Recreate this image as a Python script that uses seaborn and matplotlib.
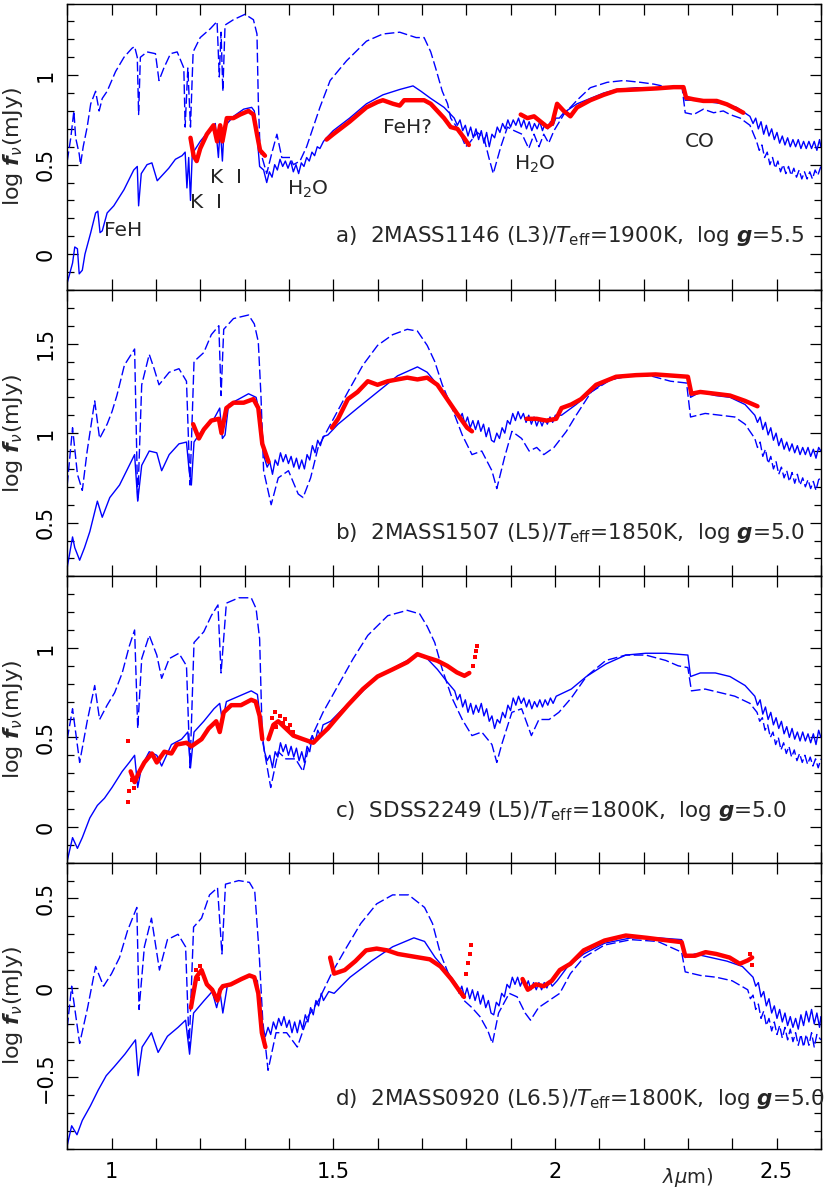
import numpy as np
import pandas as pd
import seaborn as sns
import matplotlib.pyplot as plt
from matplotlib.ticker import MultipleLocator, FuncFormatter

# ---- panel a: 2MASS1146 ----
a_solid = [(0.900, -0.16), (0.912, -0.05), (0.917, 0.04), (0.923, 0.03), (0.927, -0.11), (0.934, -0.09),
           (0.940, 0.00), (0.953, 0.12), (0.964, 0.23), (0.969, 0.24), (0.974, 0.12), (0.979, 0.13),
           (0.990, 0.23), (1.005, 0.27), (1.028, 0.36), (1.050, 0.47), (1.058, 0.49), (1.061, 0.27),
           (1.067, 0.45), (1.080, 0.50), (1.091, 0.51), (1.103, 0.41), (1.114, 0.44), (1.129, 0.48),
           (1.144, 0.53), (1.159, 0.55), (1.166, 0.57), (1.170, 0.37), (1.174, 0.54), (1.178, 0.30),
           (1.182, 0.56), (1.200, 0.63), (1.223, 0.70), (1.234, 0.73), (1.241, 0.54), (1.245, 0.71),
           (1.250, 0.52), (1.254, 0.71), (1.275, 0.77), (1.298, 0.81), (1.316, 0.82), (1.322, 0.80),
           (1.328, 0.67), (1.334, 0.49), (1.343, 0.47), (1.350, 0.40), (1.356, 0.46), (1.362, 0.43),
           (1.368, 0.50), (1.374, 0.47), (1.380, 0.53), (1.386, 0.49), (1.392, 0.52), (1.398, 0.48),
           (1.404, 0.52), (1.410, 0.46), (1.416, 0.50), (1.422, 0.45), (1.428, 0.51), (1.434, 0.49),
           (1.440, 0.54), (1.446, 0.52), (1.452, 0.57), (1.458, 0.55), (1.464, 0.60), (1.470, 0.59),
           (1.478, 0.63), (1.485, 0.65), (1.500, 0.69), (1.537, 0.76), (1.575, 0.84), (1.612, 0.89),
           (1.650, 0.92), (1.680, 0.94), (1.698, 0.91), (1.720, 0.87), (1.750, 0.82), (1.773, 0.76),
           (1.780, 0.72), (1.786, 0.75), (1.792, 0.69), (1.798, 0.72), (1.804, 0.66), (1.810, 0.71),
           (1.816, 0.65), (1.822, 0.70), (1.828, 0.64), (1.834, 0.69), (1.840, 0.62), (1.846, 0.68),
           (1.852, 0.60), (1.858, 0.67), (1.864, 0.65), (1.870, 0.71), (1.876, 0.68), (1.882, 0.73),
           (1.888, 0.70), (1.894, 0.75), (1.900, 0.71), (1.906, 0.75), (1.912, 0.72), (1.918, 0.76),
           (1.924, 0.71), (1.930, 0.75), (1.936, 0.70), (1.942, 0.74), (1.948, 0.69), (1.954, 0.73),
           (1.960, 0.70), (1.966, 0.74), (1.972, 0.69), (1.978, 0.73), (1.984, 0.70), (1.990, 0.74),
           (1.996, 0.72), (2.002, 0.76), (2.010, 0.76), (2.020, 0.79), (2.050, 0.84), (2.080, 0.87),
           (2.110, 0.90), (2.140, 0.92), (2.185, 0.93), (2.230, 0.93), (2.268, 0.93), (2.290, 0.93),
           (2.294, 0.86), (2.302, 0.86), (2.328, 0.86), (2.350, 0.85), (2.380, 0.84), (2.410, 0.82),
           (2.440, 0.77), (2.447, 0.73), (2.453, 0.76), (2.459, 0.70), (2.465, 0.74), (2.471, 0.67),
           (2.477, 0.72), (2.483, 0.66), (2.489, 0.70), (2.495, 0.64), (2.501, 0.68), (2.507, 0.62),
           (2.513, 0.66), (2.519, 0.61), (2.525, 0.65), (2.531, 0.60), (2.537, 0.64), (2.543, 0.60),
           (2.549, 0.64), (2.555, 0.59), (2.561, 0.63), (2.567, 0.59), (2.573, 0.63), (2.579, 0.59),
           (2.585, 0.63), (2.591, 0.58), (2.597, 0.64), (2.600, 0.60)]
a_dash = [(0.900, 0.52), (0.908, 0.65), (0.915, 0.80), (0.919, 0.65), (0.927, 0.56), (0.930, 0.50),
          (0.936, 0.60), (0.945, 0.71), (0.953, 0.84), (0.964, 0.91), (0.972, 0.80), (0.979, 0.87),
          (0.990, 0.91), (1.009, 1.02), (1.028, 1.10), (1.046, 1.15), (1.052, 1.16), (1.058, 1.10),
          (1.061, 0.78), (1.065, 1.10), (1.080, 1.13), (1.099, 1.12), (1.107, 0.97), (1.118, 1.04),
          (1.133, 1.12), (1.148, 1.13), (1.163, 1.04), (1.166, 0.71), (1.172, 1.04), (1.178, 0.71),
          (1.184, 1.13), (1.200, 1.21), (1.223, 1.26), (1.238, 1.30), (1.243, 0.99), (1.247, 1.24),
          (1.251, 0.91), (1.256, 1.28), (1.275, 1.31), (1.301, 1.34), (1.320, 1.31), (1.328, 1.23),
          (1.331, 0.86), (1.335, 0.58), (1.350, 0.45), (1.361, 0.56), (1.373, 0.67), (1.384, 0.54),
          (1.403, 0.54), (1.410, 0.50), (1.425, 0.52), (1.440, 0.60), (1.455, 0.71), (1.470, 0.82),
          (1.493, 0.97), (1.530, 1.08), (1.575, 1.19), (1.612, 1.23), (1.650, 1.24), (1.687, 1.21),
          (1.705, 1.21), (1.720, 1.13), (1.731, 1.04), (1.746, 0.91), (1.758, 0.84), (1.765, 0.76),
          (1.784, 0.69), (1.799, 0.60), (1.810, 0.63), (1.825, 0.68), (1.840, 0.65), (1.851, 0.54),
          (1.861, 0.45), (1.878, 0.60), (1.893, 0.71), (1.908, 0.69), (1.926, 0.67), (1.941, 0.59),
          (1.953, 0.67), (1.964, 0.60), (1.975, 0.67), (1.986, 0.62), (1.998, 0.69), (2.020, 0.78),
          (2.050, 0.86), (2.080, 0.93), (2.118, 0.96), (2.155, 0.97), (2.193, 0.96), (2.223, 0.95),
          (2.260, 0.93), (2.287, 0.93), (2.294, 0.79), (2.313, 0.78), (2.335, 0.81), (2.358, 0.79),
          (2.380, 0.80), (2.395, 0.78), (2.418, 0.76), (2.440, 0.72), (2.455, 0.63), (2.461, 0.58),
          (2.467, 0.61), (2.473, 0.54), (2.479, 0.57), (2.485, 0.50), (2.491, 0.54), (2.497, 0.48),
          (2.503, 0.52), (2.509, 0.46), (2.515, 0.50), (2.521, 0.45), (2.527, 0.49), (2.533, 0.44),
          (2.539, 0.48), (2.545, 0.43), (2.551, 0.47), (2.557, 0.42), (2.563, 0.46), (2.569, 0.42),
          (2.575, 0.46), (2.581, 0.42), (2.587, 0.47), (2.593, 0.44), (2.600, 0.49)]
a_obs = [[(1.178, 0.65), (1.185, 0.55), (1.192, 0.52), (1.200, 0.59), (1.215, 0.67), (1.230, 0.72),
          (1.238, 0.63), (1.245, 0.72), (1.250, 0.63), (1.260, 0.76), (1.275, 0.76), (1.290, 0.78),
          (1.309, 0.80), (1.320, 0.78), (1.328, 0.67), (1.335, 0.58), (1.346, 0.55)],
         [(1.485, 0.64), (1.500, 0.67), (1.537, 0.74), (1.575, 0.82), (1.600, 0.85), (1.612, 0.86),
          (1.635, 0.84), (1.650, 0.83), (1.660, 0.86), (1.680, 0.86), (1.705, 0.86), (1.720, 0.84),
          (1.735, 0.80), (1.750, 0.76), (1.765, 0.71), (1.780, 0.70), (1.795, 0.65), (1.806, 0.61)],
         [(1.923, 0.78), (1.938, 0.76), (1.953, 0.77), (1.968, 0.74), (1.983, 0.71), (1.994, 0.73),
          (2.005, 0.84), (2.020, 0.80), (2.035, 0.77), (2.050, 0.82), (2.080, 0.86), (2.110, 0.89),
          (2.140, 0.915), (2.185, 0.92), (2.230, 0.926), (2.268, 0.933), (2.290, 0.933), (2.296, 0.874),
          (2.313, 0.865), (2.335, 0.856), (2.365, 0.856), (2.388, 0.837), (2.410, 0.81), (2.425, 0.79)]]
a_dots = []

# ---- panel b: 2MASS1507 ----
b_solid = [(0.900, 0.25), (0.912, 0.42), (0.917, 0.36), (0.928, 0.29), (0.939, 0.36), (0.951, 0.45),
           (0.968, 0.62), (0.979, 0.53), (0.996, 0.64), (1.018, 0.71), (1.040, 0.82), (1.052, 0.88),
           (1.059, 0.62), (1.068, 0.82), (1.085, 0.90), (1.102, 0.89), (1.113, 0.79), (1.130, 0.88),
           (1.152, 0.94), (1.169, 0.95), (1.175, 0.79), (1.180, 0.71), (1.186, 0.95), (1.208, 1.03),
           (1.231, 1.08), (1.244, 1.14), (1.250, 0.97), (1.256, 0.99), (1.264, 1.16), (1.287, 1.19),
           (1.309, 1.22), (1.326, 1.20), (1.337, 1.08), (1.345, 0.86), (1.351, 0.81), (1.357, 0.84),
           (1.363, 0.77), (1.369, 0.85), (1.375, 0.82), (1.381, 0.89), (1.387, 0.84), (1.393, 0.88),
           (1.399, 0.83), (1.405, 0.87), (1.411, 0.81), (1.417, 0.86), (1.423, 0.80), (1.429, 0.85),
           (1.435, 0.80), (1.441, 0.88), (1.447, 0.85), (1.453, 0.93), (1.459, 0.89), (1.465, 0.96),
           (1.471, 0.93), (1.477, 0.98), (1.488, 0.99), (1.511, 1.05), (1.555, 1.14), (1.600, 1.23),
           (1.645, 1.32), (1.690, 1.37), (1.712, 1.34), (1.735, 1.27), (1.757, 1.19), (1.779, 1.12),
           (1.785, 1.08), (1.791, 1.11), (1.797, 1.05), (1.803, 1.09), (1.809, 1.03), (1.815, 1.07),
           (1.821, 1.02), (1.827, 1.07), (1.833, 1.01), (1.839, 1.05), (1.845, 0.98), (1.851, 1.03),
           (1.857, 0.96), (1.863, 0.95), (1.869, 1.00), (1.875, 0.97), (1.881, 1.03), (1.887, 1.00),
           (1.893, 1.07), (1.899, 1.05), (1.905, 1.11), (1.911, 1.07), (1.917, 1.12), (1.923, 1.08),
           (1.929, 1.11), (1.935, 1.06), (1.941, 1.10), (1.947, 1.05), (1.953, 1.09), (1.959, 1.04),
           (1.965, 1.08), (1.971, 1.04), (1.977, 1.08), (1.983, 1.05), (1.989, 1.09), (1.995, 1.06),
           (2.001, 1.10), (2.015, 1.10), (2.048, 1.16), (2.082, 1.23), (2.115, 1.29), (2.160, 1.32),
           (2.205, 1.33), (2.250, 1.32), (2.300, 1.32), (2.306, 1.20), (2.328, 1.23), (2.362, 1.21),
           (2.395, 1.20), (2.429, 1.16), (2.451, 1.10), (2.457, 1.06), (2.463, 1.09), (2.469, 1.02),
           (2.475, 1.06), (2.481, 0.99), (2.487, 1.03), (2.493, 0.96), (2.499, 1.00), (2.505, 0.93),
           (2.511, 0.97), (2.517, 0.91), (2.523, 0.95), (2.529, 0.90), (2.535, 0.94), (2.541, 0.89),
           (2.547, 0.93), (2.553, 0.88), (2.559, 0.92), (2.565, 0.88), (2.571, 0.92), (2.577, 0.87),
           (2.583, 0.91), (2.589, 0.86), (2.595, 0.92), (2.600, 0.90)]
b_dash = [(0.900, 0.71), (0.912, 1.03), (0.923, 0.77), (0.934, 0.68), (0.945, 0.90), (0.962, 1.18),
          (0.973, 0.97), (0.990, 1.05), (1.001, 1.12), (1.012, 1.21), (1.029, 1.38), (1.052, 1.47),
          (1.059, 0.62), (1.068, 1.27), (1.085, 1.44), (1.096, 1.36), (1.107, 1.27), (1.130, 1.34),
          (1.152, 1.36), (1.169, 1.29), (1.177, 0.71), (1.186, 1.40), (1.208, 1.45), (1.225, 1.55),
          (1.242, 1.60), (1.247, 1.21), (1.253, 1.58), (1.275, 1.64), (1.309, 1.66), (1.322, 1.61),
          (1.331, 1.51), (1.337, 1.21), (1.343, 0.79), (1.360, 0.60), (1.376, 0.75), (1.399, 0.79),
          (1.421, 0.66), (1.432, 0.64), (1.449, 0.75), (1.466, 0.92), (1.494, 1.05), (1.533, 1.23),
          (1.567, 1.38), (1.600, 1.49), (1.634, 1.55), (1.667, 1.58), (1.690, 1.57), (1.712, 1.49),
          (1.729, 1.40), (1.746, 1.27), (1.768, 1.14), (1.791, 0.99), (1.813, 0.88), (1.835, 0.90),
          (1.858, 0.79), (1.869, 0.69), (1.886, 0.86), (1.903, 1.01), (1.925, 0.97), (1.942, 0.90),
          (1.959, 0.92), (1.975, 0.88), (1.998, 0.92), (2.026, 1.01), (2.048, 1.10), (2.082, 1.23),
          (2.127, 1.30), (2.171, 1.32), (2.216, 1.32), (2.261, 1.29), (2.297, 1.28), (2.306, 1.09),
          (2.339, 1.11), (2.373, 1.10), (2.406, 1.09), (2.429, 1.05), (2.451, 0.97), (2.457, 0.92),
          (2.463, 0.95), (2.469, 0.87), (2.475, 0.91), (2.481, 0.83), (2.487, 0.87), (2.493, 0.80),
          (2.499, 0.84), (2.505, 0.77), (2.511, 0.81), (2.517, 0.75), (2.523, 0.79), (2.529, 0.73),
          (2.535, 0.78), (2.541, 0.72), (2.547, 0.77), (2.553, 0.71), (2.559, 0.75), (2.565, 0.70),
          (2.571, 0.74), (2.577, 0.69), (2.583, 0.73), (2.589, 0.68), (2.595, 0.74), (2.600, 0.75)]
b_obs = [[(1.184, 1.05), (1.197, 0.97), (1.208, 1.02), (1.225, 1.07), (1.242, 1.08), (1.248, 1.00),
          (1.259, 1.14), (1.275, 1.17), (1.298, 1.17), (1.320, 1.19), (1.331, 1.14), (1.340, 0.94),
          (1.354, 0.84)],
         [(1.497, 1.03), (1.511, 1.08), (1.533, 1.19), (1.555, 1.23), (1.578, 1.29), (1.600, 1.27),
          (1.623, 1.29), (1.645, 1.30), (1.667, 1.31), (1.690, 1.30), (1.712, 1.31), (1.735, 1.27),
          (1.757, 1.19), (1.779, 1.11), (1.802, 1.03), (1.813, 1.01)],
         [(1.936, 1.08), (1.959, 1.08), (1.981, 1.07), (2.003, 1.08), (2.015, 1.14), (2.037, 1.16),
          (2.059, 1.19), (2.093, 1.27), (2.138, 1.315), (2.183, 1.324), (2.227, 1.328), (2.272, 1.32),
          (2.300, 1.315), (2.308, 1.22), (2.328, 1.23), (2.362, 1.22), (2.395, 1.21), (2.429, 1.18),
          (2.457, 1.15)]]
b_dots = []

# ---- panel c: SDSS2249 ----
c_solid = [(0.900, -0.19), (0.912, -0.06), (0.923, -0.12), (0.934, -0.06), (0.951, 0.05), (0.968, 0.12),
           (0.984, 0.16), (1.001, 0.22), (1.024, 0.31), (1.040, 0.36), (1.052, 0.40), (1.059, 0.22),
           (1.068, 0.34), (1.085, 0.42), (1.102, 0.40), (1.113, 0.34), (1.135, 0.46), (1.158, 0.49),
           (1.172, 0.53), (1.178, 0.33), (1.186, 0.53), (1.208, 0.59), (1.231, 0.66), (1.244, 0.69),
           (1.250, 0.59), (1.259, 0.70), (1.287, 0.73), (1.315, 0.76), (1.329, 0.74), (1.337, 0.57),
           (1.345, 0.42), (1.351, 0.37), (1.357, 0.40), (1.363, 0.33), (1.369, 0.42), (1.375, 0.39),
           (1.381, 0.47), (1.387, 0.42), (1.393, 0.46), (1.399, 0.40), (1.405, 0.45), (1.411, 0.39),
           (1.417, 0.44), (1.423, 0.37), (1.429, 0.42), (1.435, 0.36), (1.441, 0.45), (1.447, 0.42),
           (1.453, 0.51), (1.459, 0.47), (1.465, 0.54), (1.471, 0.51), (1.477, 0.57), (1.494, 0.59),
           (1.522, 0.66), (1.555, 0.73), (1.600, 0.84), (1.645, 0.90), (1.690, 0.96), (1.712, 0.94),
           (1.735, 0.88), (1.757, 0.81), (1.774, 0.76), (1.780, 0.71), (1.786, 0.74), (1.792, 0.67),
           (1.798, 0.71), (1.804, 0.64), (1.810, 0.69), (1.816, 0.63), (1.822, 0.68), (1.828, 0.64),
           (1.834, 0.69), (1.840, 0.62), (1.846, 0.66), (1.852, 0.59), (1.858, 0.62), (1.864, 0.55),
           (1.870, 0.60), (1.876, 0.58), (1.882, 0.64), (1.888, 0.61), (1.894, 0.68), (1.900, 0.65),
           (1.906, 0.72), (1.912, 0.68), (1.918, 0.73), (1.924, 0.69), (1.930, 0.72), (1.936, 0.67),
           (1.942, 0.71), (1.948, 0.66), (1.954, 0.70), (1.960, 0.67), (1.966, 0.71), (1.972, 0.67),
           (1.978, 0.71), (1.984, 0.68), (1.990, 0.72), (1.996, 0.69), (2.003, 0.73), (2.037, 0.77),
           (2.071, 0.84), (2.115, 0.91), (2.160, 0.96), (2.205, 0.97), (2.250, 0.97), (2.300, 0.96),
           (2.306, 0.84), (2.328, 0.86), (2.362, 0.86), (2.395, 0.84), (2.429, 0.79), (2.451, 0.73),
           (2.457, 0.68), (2.463, 0.71), (2.469, 0.63), (2.475, 0.67), (2.481, 0.60), (2.487, 0.64),
           (2.493, 0.57), (2.499, 0.61), (2.505, 0.55), (2.511, 0.59), (2.517, 0.52), (2.523, 0.56),
           (2.529, 0.50), (2.535, 0.55), (2.541, 0.49), (2.547, 0.53), (2.553, 0.48), (2.559, 0.53),
           (2.565, 0.48), (2.571, 0.52), (2.577, 0.47), (2.583, 0.52), (2.589, 0.46), (2.595, 0.54),
           (2.600, 0.50)]
c_dash = [(0.900, 0.49), (0.912, 0.66), (0.928, 0.36), (0.945, 0.59), (0.962, 0.79), (0.973, 0.60),
          (0.990, 0.68), (1.007, 0.75), (1.024, 0.86), (1.040, 1.01), (1.052, 1.10), (1.059, 0.55),
          (1.068, 0.94), (1.085, 1.07), (1.102, 0.96), (1.113, 0.83), (1.130, 0.94), (1.152, 0.97),
          (1.169, 0.90), (1.177, 0.33), (1.186, 1.03), (1.208, 1.09), (1.225, 1.18), (1.240, 1.24),
          (1.247, 0.86), (1.259, 1.25), (1.287, 1.28), (1.315, 1.28), (1.326, 1.22), (1.334, 1.05),
          (1.340, 0.49), (1.359, 0.22), (1.376, 0.42), (1.393, 0.38), (1.415, 0.38), (1.432, 0.31),
          (1.449, 0.49), (1.477, 0.64), (1.511, 0.79), (1.545, 0.94), (1.578, 1.07), (1.623, 1.18),
          (1.667, 1.21), (1.695, 1.19), (1.712, 1.12), (1.729, 1.03), (1.746, 0.88), (1.768, 0.72),
          (1.791, 0.60), (1.813, 0.51), (1.835, 0.53), (1.858, 0.46), (1.869, 0.36), (1.880, 0.46),
          (1.903, 0.64), (1.925, 0.66), (1.947, 0.51), (1.964, 0.60), (1.987, 0.60), (2.009, 0.64),
          (2.037, 0.72), (2.071, 0.84), (2.115, 0.93), (2.160, 0.96), (2.205, 0.96), (2.250, 0.93),
          (2.278, 0.90), (2.300, 0.89), (2.308, 0.76), (2.339, 0.77), (2.373, 0.75), (2.406, 0.73),
          (2.440, 0.69), (2.456, 0.64), (2.462, 0.59), (2.468, 0.61), (2.474, 0.54), (2.480, 0.57),
          (2.486, 0.50), (2.492, 0.53), (2.498, 0.46), (2.504, 0.50), (2.510, 0.43), (2.516, 0.47),
          (2.522, 0.41), (2.528, 0.45), (2.534, 0.39), (2.540, 0.43), (2.546, 0.37), (2.552, 0.41),
          (2.558, 0.36), (2.564, 0.40), (2.570, 0.35), (2.576, 0.39), (2.582, 0.34), (2.588, 0.38),
          (2.594, 0.33), (2.600, 0.38)]
c_obs = [[(1.043, 0.31), (1.052, 0.25), (1.063, 0.31), (1.074, 0.36), (1.091, 0.41), (1.102, 0.36),
          (1.119, 0.42), (1.135, 0.41), (1.147, 0.46), (1.169, 0.47), (1.180, 0.45), (1.203, 0.49),
          (1.219, 0.55), (1.236, 0.59), (1.244, 0.53), (1.253, 0.64), (1.270, 0.68), (1.292, 0.68),
          (1.315, 0.71), (1.325, 0.70), (1.334, 0.62), (1.340, 0.49)],
         [(1.354, 0.49), (1.365, 0.57), (1.376, 0.59), (1.393, 0.55), (1.410, 0.51), (1.432, 0.49),
          (1.455, 0.47), (1.471, 0.51), (1.488, 0.55), (1.505, 0.60), (1.533, 0.68), (1.567, 0.77),
          (1.600, 0.84), (1.634, 0.88), (1.667, 0.92), (1.690, 0.965), (1.712, 0.946), (1.735, 0.928),
          (1.757, 0.90), (1.779, 0.863), (1.796, 0.844), (1.807, 0.86)]]
c_dots = [(1.038, 0.48), (1.038, 0.14), (1.040, 0.20), (1.046, 0.26), (1.050, 0.22), (1.362, 0.61),
          (1.368, 0.64), (1.372, 0.56), (1.380, 0.62), (1.386, 0.58), (1.392, 0.60), (1.398, 0.55),
          (1.403, 0.57), (1.410, 0.53), (1.815, 0.90), (1.819, 0.95), (1.822, 0.98), (1.824, 1.01)]

# ---- panel d: 2MASS0920 ----
d_solid = [(0.900, -0.88), (0.910, -0.77), (0.922, -0.82), (0.934, -0.74), (0.952, -0.66), (0.970, -0.57),
           (0.988, -0.49), (1.006, -0.44), (1.030, -0.37), (1.054, -0.29), (1.060, -0.49), (1.069, -0.33),
           (1.090, -0.25), (1.105, -0.36), (1.126, -0.27), (1.150, -0.22), (1.167, -0.18), (1.176, -0.37),
           (1.185, -0.14), (1.209, -0.07), (1.227, -0.02), (1.237, -0.11), (1.245, -0.03), (1.251, -0.14),
           (1.261, 0.01), (1.287, 0.04), (1.317, 0.07), (1.329, 0.04), (1.335, -0.18), (1.347, -0.27),
           (1.353, -0.22), (1.359, -0.26), (1.365, -0.19), (1.371, -0.23), (1.377, -0.17), (1.383, -0.21),
           (1.389, -0.16), (1.395, -0.22), (1.401, -0.18), (1.407, -0.25), (1.413, -0.19), (1.419, -0.25),
           (1.425, -0.18), (1.431, -0.23), (1.437, -0.15), (1.443, -0.19), (1.449, -0.11), (1.455, -0.15),
           (1.461, -0.07), (1.467, -0.10), (1.473, -0.03), (1.478, -0.07), (1.490, -0.02), (1.502, -0.03),
           (1.538, 0.06), (1.586, 0.15), (1.634, 0.23), (1.682, 0.28), (1.706, 0.26), (1.730, 0.17),
           (1.754, 0.10), (1.778, 0.02), (1.784, -0.03), (1.790, 0.01), (1.796, -0.05), (1.802, 0.00),
           (1.808, -0.06), (1.814, -0.01), (1.820, -0.07), (1.826, -0.02), (1.832, -0.09), (1.838, -0.04),
           (1.844, -0.11), (1.850, -0.07), (1.856, -0.14), (1.862, -0.15), (1.868, -0.08), (1.874, -0.10),
           (1.880, -0.03), (1.886, -0.05), (1.892, 0.02), (1.898, 0.00), (1.904, 0.06), (1.910, 0.02),
           (1.916, 0.06), (1.922, 0.01), (1.928, 0.05), (1.934, 0.00), (1.940, 0.04), (1.946, -0.01),
           (1.952, 0.03), (1.958, -0.01), (1.964, 0.03), (1.970, -0.01), (1.976, 0.03), (1.982, 0.00),
           (1.988, 0.04), (1.994, 0.01), (2.005, 0.04), (2.029, 0.12), (2.065, 0.19), (2.112, 0.25),
           (2.172, 0.28), (2.232, 0.28), (2.286, 0.27), (2.294, 0.17), (2.316, 0.19), (2.352, 0.17),
           (2.388, 0.15), (2.423, 0.12), (2.447, 0.06), (2.453, 0.01), (2.459, 0.03), (2.465, -0.05),
           (2.471, -0.02), (2.477, -0.10), (2.483, -0.06), (2.489, -0.14), (2.495, -0.10), (2.501, -0.17),
           (2.507, -0.12), (2.513, -0.19), (2.519, -0.14), (2.525, -0.21), (2.531, -0.16), (2.537, -0.22),
           (2.543, -0.17), (2.549, -0.23), (2.555, -0.15), (2.561, -0.21), (2.567, -0.13), (2.573, -0.19),
           (2.579, -0.12), (2.585, -0.20), (2.591, -0.14), (2.597, -0.22), (2.600, -0.16)]
d_dash = [(0.900, -0.22), (0.910, 0.01), (0.928, -0.31), (0.946, -0.11), (0.964, 0.12), (0.982, 0.01),
          (1.000, 0.08), (1.018, 0.17), (1.036, 0.32), (1.057, 0.45), (1.062, -0.12), (1.074, 0.23),
          (1.090, 0.39), (1.108, 0.10), (1.126, 0.27), (1.150, 0.30), (1.167, 0.23), (1.175, -0.33),
          (1.185, 0.34), (1.203, 0.39), (1.221, 0.52), (1.239, 0.56), (1.249, 0.19), (1.257, 0.58),
          (1.287, 0.60), (1.311, 0.59), (1.323, 0.54), (1.333, 0.19), (1.341, -0.18), (1.353, -0.46),
          (1.371, -0.25), (1.395, -0.25), (1.419, -0.33), (1.443, -0.16), (1.467, -0.07), (1.496, 0.08),
          (1.526, 0.21), (1.562, 0.36), (1.598, 0.47), (1.634, 0.52), (1.670, 0.52), (1.706, 0.45),
          (1.724, 0.36), (1.742, 0.19), (1.760, 0.08), (1.778, 0.01), (1.795, -0.07), (1.813, -0.11),
          (1.831, -0.16), (1.849, -0.24), (1.859, -0.31), (1.873, -0.14), (1.897, -0.03), (1.915, -0.05),
          (1.933, -0.14), (1.945, -0.18), (1.963, -0.11), (1.987, -0.07), (2.011, -0.03), (2.035, 0.08),
          (2.065, 0.17), (2.112, 0.24), (2.172, 0.27), (2.232, 0.26), (2.268, 0.22), (2.286, 0.20),
          (2.294, 0.09), (2.328, 0.07), (2.364, 0.06), (2.400, 0.04), (2.435, -0.01), (2.441, -0.06),
          (2.447, -0.04), (2.453, -0.12), (2.459, -0.09), (2.465, -0.17), (2.471, -0.13), (2.477, -0.21),
          (2.483, -0.17), (2.489, -0.24), (2.495, -0.19), (2.501, -0.26), (2.507, -0.21), (2.513, -0.28),
          (2.519, -0.22), (2.525, -0.29), (2.531, -0.23), (2.537, -0.30), (2.543, -0.25), (2.549, -0.32),
          (2.555, -0.26), (2.561, -0.33), (2.567, -0.26), (2.573, -0.32), (2.579, -0.25), (2.585, -0.33),
          (2.591, -0.26), (2.600, -0.29)]
d_obs = [[(1.179, -0.11), (1.191, 0.06), (1.203, 0.10), (1.215, 0.02), (1.227, -0.01), (1.239, -0.07),
          (1.245, -0.01), (1.251, 0.01), (1.269, 0.02), (1.293, 0.05), (1.311, 0.07), (1.322, 0.06),
          (1.331, -0.03), (1.339, -0.25), (1.347, -0.33)],
         [(1.493, 0.17), (1.502, 0.08), (1.526, 0.10), (1.550, 0.15), (1.574, 0.21), (1.598, 0.22),
          (1.622, 0.21), (1.646, 0.19), (1.670, 0.18), (1.694, 0.17), (1.718, 0.16), (1.742, 0.12),
          (1.766, 0.05), (1.783, -0.01), (1.795, -0.05)],
         [(1.927, 0.05), (1.939, -0.01), (1.957, 0.02), (1.975, 0.01), (1.993, 0.04), (2.011, 0.10),
          (2.035, 0.135), (2.065, 0.21), (2.112, 0.265), (2.160, 0.293), (2.208, 0.28), (2.256, 0.265),
          (2.286, 0.256), (2.294, 0.18), (2.316, 0.18), (2.340, 0.20), (2.364, 0.19), (2.394, 0.17),
          (2.417, 0.135), (2.435, 0.154), (2.445, 0.17)]]
d_dots = [(1.190, 0.10), (1.196, 0.05), (1.200, 0.12), (1.800, 0.08), (1.804, 0.14), (1.808, 0.19),
          (1.810, 0.24), (2.440, 0.19), (2.445, 0.13)]

# y ranges and captions
ylims = [(-0.2, 1.4), (0.2, 1.8), (-0.2, 1.4), (-0.9, 0.7)]
captions = [r'a)  2MASS1146 (L3)/$T_{\rm eff}$=1900K,  log $\mathbfit{g}$=5.5',
            r'b)  2MASS1507 (L5)/$T_{\rm eff}$=1850K,  log $\mathbfit{g}$=5.0',
            r'c)  SDSS2249 (L5)/$T_{\rm eff}$=1800K,  log $\mathbfit{g}$=5.0',
            r'd)  2MASS0920 (L6.5)/$T_{\rm eff}$=1800K,  log $\mathbfit{g}$=5.0']
caption_y = [0.10, 0.44, 0.09, -0.62]

sns.set_style('ticks')
plt.rcParams['font.family'] = ['DejaVu Sans']
plt.rcParams['mathtext.fontset'] = 'dejavusans'

fig, axes = plt.subplots(4, 1, figsize=(8.3, 11.89), dpi=100, sharex=True)
fig.subplots_adjust(left=0.081, right=0.989, top=0.997, bottom=0.0336, hspace=0)

panels = [(a_solid, a_dash, a_obs, a_dots), (b_solid, b_dash, b_obs, b_dots),
          (c_solid, c_dash, c_obs, c_dots), (d_solid, d_dash, d_obs, d_dots)]

tick_fmt = FuncFormatter(lambda v, p: ('%g' % round(v, 2)).replace('-', '\u2212'))

for i, (ax, (solid, dash, obs, dots)) in enumerate(zip(axes, panels)):
    s = np.array(solid)
    dsh = np.array(dash)
    sns.lineplot(x=s[:, 0], y=s[:, 1], ax=ax, color='#0000ff', lw=1.0, sort=False, estimator=None)
    line = sns.lineplot(x=dsh[:, 0], y=dsh[:, 1], ax=ax, color='#0000ff', lw=1.0,
                        sort=False, estimator=None).lines[-1]
    line.set_dashes((7, 2.5))
    obs_df = pd.DataFrame([(x, y, k) for k, seg in enumerate(obs) for x, y in seg],
                          columns=['x', 'y', 'seg'])
    sns.lineplot(data=obs_df, x='x', y='y', units='seg', estimator=None, sort=False,
                 ax=ax, color='#ff0000', lw=3.2)
    if dots:
        dd = np.array(dots)
        sns.scatterplot(x=dd[:, 0], y=dd[:, 1], ax=ax, color='#ff0000', s=7, marker='s', linewidth=0)

    ax.set_xlim(0.9, 2.6)
    ax.set_ylim(*ylims[i])
    ax.yaxis.set_major_locator(MultipleLocator(0.5))
    ax.yaxis.set_minor_locator(MultipleLocator(0.1))
    ax.yaxis.set_major_formatter(tick_fmt)
    ax.xaxis.set_major_locator(MultipleLocator(0.5))
    ax.xaxis.set_minor_locator(MultipleLocator(0.1))
    ax.xaxis.set_major_formatter(tick_fmt)
    ax.tick_params(which='both', direction='in', top=True, right=True, width=0.9, colors='black')
    ax.tick_params(axis='y', which='major', length=8, labelsize=15, labelrotation=90, pad=8)
    ax.tick_params(axis='y', which='minor', length=5)
    ax.tick_params(axis='x', which='both', length=8, labelsize=15, pad=9)
    for t in ax.get_yticklabels():
        t.set_va('center')
    for sp in ax.spines.values():
        sp.set_linewidth(1.0)
        sp.set_color('black')
    ax.set_ylabel(r'log $\mathbfit{f}_{\nu}$(mJy)', fontsize=16)
    ax.yaxis.set_label_coords(-0.056, 0.5)
    ax.set_xlabel('')
    ax.text(1.505, caption_y[i], captions[i], fontsize=15.5, ha='left', va='center')

# feature labels in panel a
ax = axes[0]
ax.text(0.983, 0.13, 'FeH', fontsize=14.5, va='center')
ax.text(1.178, 0.29, 'K  I', fontsize=14.5, va='center')
ax.text(1.223, 0.43, 'K  I', fontsize=14.5, va='center')
ax.text(1.395, 0.36, r'H$_2$O', fontsize=14.5, va='center')
ax.text(1.612, 0.71, 'FeH?', fontsize=14.5, va='center')
ax.text(1.908, 0.50, r'H$_2$O', fontsize=14.5, va='center')
ax.text(2.294, 0.63, 'CO', fontsize=14.5, va='center')

axes[-1].set_xlabel(r'$\lambda\mu$m)', fontsize=14)
axes[-1].xaxis.set_label_coords(0.8235, -0.058)

fig.savefig('out.png', dpi=100)
plt.close(fig)
